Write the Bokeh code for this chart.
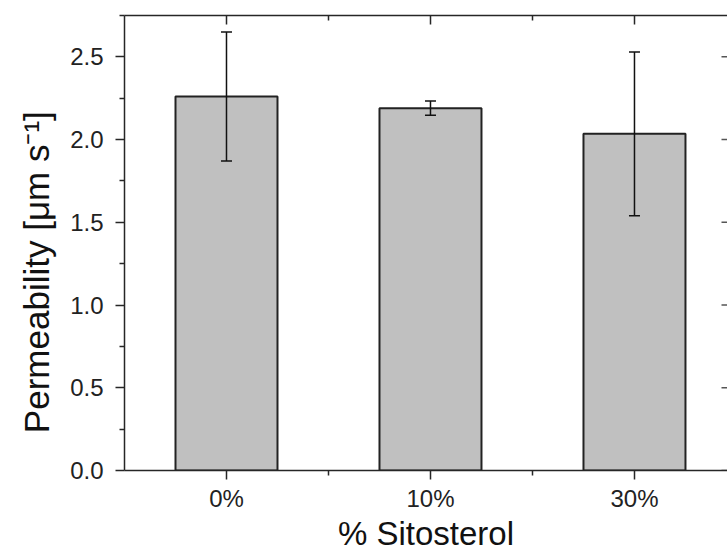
from bokeh.plotting import figure
from bokeh.models import (ColumnDataSource, Range1d, LinearAxis, FixedTicker,
                          Whisker, TeeHead)
from bokeh.embed import file_html
from bokeh.resources import INLINE

# ---- data ----
categories = ["0%", "10%", "30%"]
permeability = [2.26, 2.19, 2.035]
errors = [0.39, 0.043, 0.495]
y_ticks = [0.0, 0.5, 1.0, 1.5, 2.0, 2.5]
y_minor = [0.25, 0.75, 1.25, 1.75, 2.25, 2.75]

xpos = list(range(len(categories)))
X_END = 2.456
src = ColumnDataSource(dict(
    x=xpos, top=permeability,
    upper=[v + e for v, e in zip(permeability, errors)],
    lower=[v - e for v, e in zip(permeability, errors)],
))

FONT = "Liberation Sans"
AX = "#262626"

p = figure(width=727, height=554, output_backend="svg", toolbar_location=None,
           x_range=Range1d(-0.5, X_END), y_range=Range1d(0, 2.75),
           x_axis_location=None, y_axis_location=None,
           min_border_left=124, min_border_right=0, min_border_top=15,
           min_border_bottom=10)
p.outline_line_color = None
p.grid.visible = False
p.background_fill_color = "white"
p.border_fill_color = "white"

# bars
p.vbar(x="x", top="top", width=0.5, bottom=0, source=src,
       fill_color="#c0c0c0", line_color="#222222", line_width=2)

# error bars
wh = Whisker(base="x", upper="upper", lower="lower", source=src, dimension="height",
             line_color="#111111", line_width=1.5, level="overlay",
             upper_head=TeeHead(size=11, line_color="#111111", line_width=1.5),
             lower_head=TeeHead(size=11, line_color="#111111", line_width=1.5))
p.add_layout(wh)

# right-edge inward ticks (right axis itself is cut off by the page edge)
p.scatter(x=[X_END] * len(y_ticks), y=y_ticks, marker="dash", size=12,
          line_color="#555555", line_width=1.5)

xticker = FixedTicker(ticks=xpos, minor_ticks=[0.5, 1.5])
yticker = FixedTicker(ticks=y_ticks, minor_ticks=y_minor)

# bottom axis
xb = LinearAxis(ticker=xticker, axis_label="% Sitosterol",
                major_label_overrides={i: c for i, c in zip(xpos, categories)})
# left axis (trailing no-break spaces shift the label down like the original)
yl = LinearAxis(ticker=yticker,
                axis_label="Permeability [\u03bcm s\u207b\u00b9]" + "\u00a0" * 6,
                major_label_overrides={v: f"{v:.1f}" for v in y_ticks})
for ax in (xb, yl):
    ax.axis_line_color = AX
    ax.axis_line_width = 1.5
    ax.major_tick_line_color = AX
    ax.minor_tick_line_color = AX
    ax.major_tick_line_width = 1.5
    ax.minor_tick_line_width = 1.5
    ax.major_tick_in = 0
    ax.major_tick_out = 9
    ax.minor_tick_in = 0
    ax.minor_tick_out = 5
    ax.major_label_text_font = FONT
    ax.major_label_text_font_size = "24px"
    ax.major_label_text_color = "#222222"
    ax.axis_label_text_font = FONT
    ax.axis_label_text_font_size = "33px"
    ax.axis_label_text_font_style = "normal"
    ax.axis_label_text_color = "#111111"
yl.axis_label_text_font_size = "35px"
xb.major_label_standoff = 5
xb.axis_label_standoff = 0
yl.major_label_standoff = 12
yl.axis_label_standoff = 11
p.add_layout(xb, "below")
p.add_layout(yl, "left")

# top axis (inward ticks, no labels)
xt = LinearAxis(ticker=xticker, major_label_text_font_size="0px",
                major_label_standoff=0,
                major_label_overrides={i: "" for i in xpos})
xt.axis_line_color = AX
xt.axis_line_width = 1.5
xt.major_tick_line_color = AX
xt.minor_tick_line_color = AX
xt.major_tick_line_width = 1.5
xt.minor_tick_line_width = 1.5
xt.major_tick_in = 9
xt.major_tick_out = 0
xt.minor_tick_in = 5
xt.minor_tick_out = 0
p.add_layout(xt, "above")

open("out.html", "w").write(file_html(p, INLINE))
